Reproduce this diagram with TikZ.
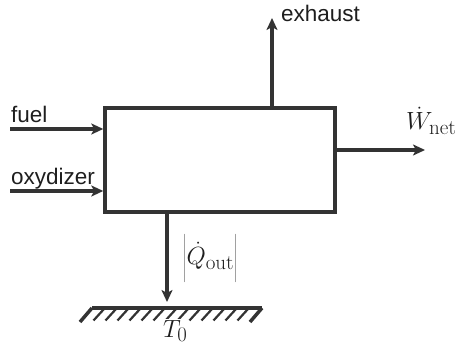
\documentclass[tikz,border=0pt]{standalone}
\usepackage{fontspec}
\newfontfamily\labelfont{Liberation Sans}
\usetikzlibrary{arrows.meta,calc}
\definecolor{ink}{HTML}{333333}
\definecolor{txt}{HTML}{1e1e1e}
\DeclareMathSizes{24.88}{24.88}{21}{17.28}
\begin{document}
\begin{tikzpicture}[x=1pt,y=-1pt,
  flow/.style={draw=ink, line width=4pt, -{Stealth[length=12pt,width=11pt,inset=3pt]}},
  lbl/.style={inner sep=0pt, text=txt, anchor=base west, font=\labelfont\fontsize{22.5}{27}\selectfont},
  mlbl/.style={inner sep=0pt, text=txt, anchor=base west, font=\Huge},
  hatch/.style={draw=ink, line width=2.2pt},
  ground/.style={draw=ink, line width=3.5pt}]
\useasboundingbox (0,0) rectangle (460,347);
\node[draw=ink, line width=3.5pt, minimum width=230pt, minimum height=104pt, inner sep=0pt] (box) at (220,160) {};
% inputs
\coordinate (fuelin) at (10,129);
\coordinate (oxin) at (10,191);
\draw[flow] (fuelin) -- (fuelin -| box.west);
\draw[flow] (oxin) -- (oxin -| box.west);
\node[lbl] (fuel) at (11,123) {fuel};
\node[lbl] (ox) at (11,185) {oxydizer};
% exhaust
\coordinate (exh) at (272,18);
\draw[flow] (box.north -| exh) -- (exh);
\node[lbl] (exhl) at (281,22) {exhaust};
% work
\coordinate (wout) at (425,150);
\draw[flow] (wout -| box.east) -- (wout);
\node[mlbl] (wl) at (406,130) {$\dot W_{\mathrm{net}}$};
% heat
\coordinate (qend) at (167,302);
\draw[flow] (box.south -| qend) -- (qend);
\node[mlbl] (ql) at (183,265) {$\left|\vrule height 32pt depth 12pt width 0pt\dot Q_{\mathrm{out}}\right|$};
% ground
\coordinate (gl) at (92,308);
\coordinate (gr) at (262,308);
\foreach \k in {1,...,13} \draw[hatch] ($(gl)+(12*\k,1)$) -- ++(-10.5,11.5);
\draw[ground] (gl) -- ++(-12,14);
\draw[ground] (gr) -- ++(-12,14);
\draw[ground] (gl) -- (gr);
\node[mlbl, fill=white, inner sep=1pt] (t0) at (162,337) {$T_0$};
\end{tikzpicture}
\end{document}
